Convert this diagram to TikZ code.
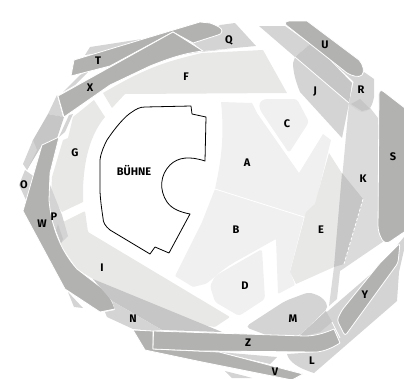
\documentclass[tikz,border=0pt]{standalone}
\usepackage{fontspec}
\setsansfont{Fira Sans}
\usepackage{tikz}

\definecolor{seatdark}{HTML}{B2B2B1}
\definecolor{seatmid}{HTML}{C6C6C6}
\definecolor{seatsoft}{HTML}{D4D4D4}
\definecolor{seatfloor}{HTML}{E8E8E7}
\definecolor{seatpale}{HTML}{F0F0F0}

\begin{document}
\begin{tikzpicture}[
  x=1pt, y=-1pt,
  dark/.style={fill=seatdark, draw=white, line width=0.8pt, line join=round},
  mid/.style={fill=seatmid, draw=none},
  soft/.style={fill=seatsoft, draw=none},
  floor/.style={fill=seatfloor, draw=none},
  pale/.style={fill=seatpale, draw=none},
  hair/.style={draw=white, line width=0.8pt},
  stagebox/.style={fill=white, draw=black, line width=0.8pt, line join=round},
  lbl/.style={font=\sffamily\bfseries\fontsize{11}{12}\selectfont, text=black, inner sep=0pt}]
\useasboundingbox (0,0) rectangle (404,378);

% outer top left
\fill[soft] (85,55) -- (90,47) -- (142,39) -- (120,50) -- cycle;
\fill[soft] (57,95) -- (63,117) -- (48,114) -- cycle;
\fill[soft] (69,115) -- (73,114) -- (65,132) -- (59,137) -- cycle;
\fill[mid] (48,114) -- (64,117) -- (57,138) -- (42,145) -- (27,170) -- (33,140) -- cycle;
\fill[soft] (33,140) -- (23,164) -- (27,170) -- (37,150) -- cycle;
\fill[soft] (25,170) -- (19,185) -- (26,200) -- (36,178) -- cycle;
\fill[soft] (80,75) -- (90,70) -- (75,85) -- (63,92) -- cycle;
\fill[soft] (150,63) .. controls (165,55) and (180,53) .. (190,52) -- (203,51) -- (230,49) -- (200,52) .. controls (180,55) and (165,58) .. cycle;

% Q
\fill[soft] (193,43) -- (220,25) -- (235,23) -- (256,46) -- (203,51) -- cycle;

% T and X
\path[dark] (74,60) -- (140,40) -- (200,22) -- (210,23) .. controls (218,26) and (222,28) .. (222,31) .. controls (222,33) and (220,35) .. (218,35) -- (193,43) -- (173,32) -- (110,66) -- (71,76) -- cycle;
\path[dark] (58,96) -- (173,32) -- (203,51) .. controls (185,53) and (170,58) .. (150,66) -- (110,85) -- (64,117) -- cycle;

% floor
\fill[floor] (103,93) .. controls (120,83) and (135,75) .. (147,70) .. controls (165,62) and (185,57) .. (202,53) -- (263,50) -- (287,93) -- (125,94) -- (112,108) -- cycle;
\fill[floor] (94,100) -- (105,117) .. controls (90,135) and (84,160) .. (83,189) -- (83,202) -- (62,212) -- (51,196) -- (52,177) -- (63,140) -- (68,138) -- (73,117) -- cycle;
\fill[floor, rounded corners=1pt] (63,222) -- (85,211) -- (88,232) -- (230,317) -- (215,327) -- (202,325) -- (93,279) -- (77,269) -- (60,244) -- cycle;

% P
\fill[soft] (50,185) -- (62,215) -- (68,236) -- (61,243) -- (52,220) -- (48,200) -- cycle;
\fill[mid] (58,224) -- (63,239) -- (61,243) -- (56,230) -- cycle;

% W
\path[dark] (42,145) -- (59,137) -- (50,173) -- (49,200) .. controls (51,225) and (60,250) .. (77,269) -- (103,289) .. controls (109,295) and (113,302) .. (115,309) -- (100,312) -- (65,289) -- (23,211) -- cycle;
\fill[soft] (68,292) -- (83,308) -- (74,307) -- cycle;

% N
\fill[mid] (93,279) -- (222,332) -- (162,330) -- (112,301) -- cycle;
\fill[soft] (112,301) -- (162,330) -- (153,331) -- (133,329) -- (107,317) -- (105,312) -- (115,310) -- cycle;

% bottom bands
\fill[soft] (219,352) -- (277,357) -- (270,364) -- cycle;
\fill[soft] (225,371) -- (245,376) -- (252,378) -- (232,378) -- cycle;
\path[dark] (133,330) -- (153,331) -- (153,349) -- (219,352) -- (303,374) -- (292,380) -- (202,362) -- (145,350) -- cycle;

% A B C D E
\fill[pale] (221,102) -- (252,103) -- (257,113) -- (299,173) -- (323,134) -- (331,140) -- (319,189) .. controls (318,198) and (316,203) .. (315,204) -- (304,217) -- (215,189) .. controls (220,165) and (225,140) .. cycle;
\fill[pale, rounded corners=1pt] (215,189) -- (304,217) -- (290,271) -- (295,285) -- (278,294) -- (276,239) -- (235,262) .. controls (218,272) and (210,282) .. (205,284) -- (193,287) -- (175,276) -- (202,222) -- cycle;
\draw[hair] (215,189) -- (304,217);
\fill[pale, rounded corners=3pt] (259,103) -- (264,99) -- (297,99) -- (309,122) -- (289,153) -- (260,110) -- cycle;
\fill[pale, rounded corners=3pt] (262,249) -- (265,299) -- (239,316) -- (215,302) -- (210,286) -- (215,276) -- cycle;
\fill[floor] (329,153) -- (343,175) -- (334,267) -- (296,284) -- (290,272) -- (306,212) -- (315,204) -- (319,189) -- cycle;

% K
\fill[seatsoft!85!white] (349,103) -- (364,100) -- (378,118) -- (379,230) -- (384,241) -- (340,271) -- (337,299) -- (329,306) -- (334,267) -- cycle;
\fill[mid] (342,173) -- (363,199) -- (344,264) -- (334,267) -- cycle;
\draw[hair, densely dashed] (363,199) -- (344,264);

% J R U
\fill[soft] (259,26) -- (285,26) -- (310,44) -- (295,57) -- cycle;
\fill[soft] (295,57) -- (349,103) -- (342,138) -- (300,92) .. controls (295,80) and (293,70) .. (293,63) -- cycle;
\fill[soft] (354,80) -- (364,72) -- (374,79) -- (374,97) .. controls (372,108) and (368,112) .. (362,112) .. controls (358,111) and (352,107) .. (349,103) -- cycle;
\fill[seatmid] (360,99) -- (370,109) -- (362,111) -- (351,104) -- cycle;
\fill[seatmid] (295,57) -- (310,44) -- (325,55) -- (352,83) -- (349,103) -- cycle;
\fill[soft] (325,55) -- (347,73) -- (359,77) -- (354,82) -- cycle;
\draw[hair] (295,57) -- (349,103);
\path[dark] (286,25) .. controls (284,22) and (287,21) .. (290,21) -- (307,21) -- (359,60) .. controls (363,64) and (365,72) .. (362,75) .. controls (359,78) and (352,76) .. (347,73) -- cycle;

% S
\path[dark, rounded corners=6pt] (379,88) -- (410,112) -- (410,228) -- (385,245) -- (378,232) -- cycle;

% M
\fill[seatsoft, rounded corners=5pt] (245,327) -- (285,301) -- (309,292) -- (322,297) -- (329,307) -- (299,336) -- (269,336) -- cycle;

% L and Y
\fill[soft] (299,336) -- (379,267) -- (404,237) -- (404,250) -- (399,272) -- (397,301) -- (314,373) .. controls (298,368) and (289,362) .. (287,354) -- (317,352) -- (340,343) -- cycle;
\fill[seatmid] (299,336) -- (326,311) -- (332,322) -- (320,332) -- (305,336) -- cycle;
\path[dark, rounded corners=3pt] (400,243) -- (398,263) -- (345,336) -- (337,320) -- (342,310) -- (380,263) -- cycle;
\draw[hair] (332,322) -- (340,338);

% Z
\path[dark] (153.5,331) -- (305,336) .. controls (315,336) and (325,333) .. (334,329) -- (340,343) .. controls (332,348) and (325,351) .. (317,352) -- (202,351) -- (153,349) -- cycle;

% stage
\path[stagebox] (191,106) -- (192,114) -- (206,117) -- (205,161) .. controls (190,156) and (178,157) .. (170,165) .. controls (160,175) and (159,190) .. (167,202) .. controls (172,209) and (180,212) .. (190,214) -- (169,253) -- (155,247) -- (150,254) -- (110,230) .. controls (105,226) and (103,222) .. (103,218) .. controls (101,205) and (100,195) .. (100,190) -- (100,160) .. controls (101,152) and (104,146) .. (107,140) .. controls (115,128) and (125,116) .. (132,112) .. controls (136,109) and (140,107) .. (145,107) -- cycle;

% labels
\node[lbl] (buehne) at (134,171) {BÜHNE};
\node[lbl] (lblT) at (98,61) {T};
\node[lbl] (lblX) at (90,88) {X};
\node[lbl] (lblF) at (186,77) {F};
\node[lbl] (lblQ) at (229,40) {Q};
\node[lbl] (lblU) at (325,45) {U};
\node[lbl] (lblJ) at (315,92) {J};
\node[lbl] (lblR) at (361,90) {R};
\node[lbl] (lblC) at (287,124) {C};
\node[lbl] (lblS) at (393,157) {S};
\node[lbl] (lblK) at (363,179) {K};
\node[lbl] (lblA) at (247,163) {A};
\node[lbl] (lblG) at (75,153) {G};
\node[lbl] (lblO) at (24,185) {O};
\node[lbl] (lblP) at (54,217) {P};
\node[lbl] (lblW) at (42,224) {W};
\node[lbl] (lblB) at (236,230) {B};
\node[lbl] (lblE) at (321,230) {E};
\node[lbl] (lblD) at (245,286) {D};
\node[lbl] (lblI) at (102,268) {I};
\node[lbl] (lblN) at (133,319) {N};
\node[lbl] (lblM) at (293,319) {M};
\node[lbl] (lblY) at (365,295) {Y};
\node[lbl] (lblZ) at (248,343) {Z};
\node[lbl] (lblL) at (312,361) {L};
\node[lbl] (lblV) at (275,372) {V};
\end{tikzpicture}
\end{document}
